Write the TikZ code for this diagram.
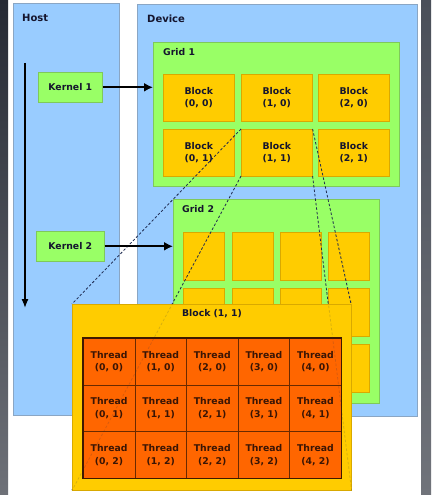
\documentclass[tikz,border=0pt]{standalone}
\usepackage{fontspec}
\setmainfont{DejaVu Sans}
\usetikzlibrary{arrows.meta}
\definecolor{panel}{HTML}{99CCFF}
\definecolor{panelborder}{HTML}{8AA6C4}
\definecolor{gridgreen}{HTML}{99FF66}
\definecolor{gridborder}{HTML}{7FC95A}
\definecolor{blockyellow}{HTML}{FFCC00}
\definecolor{blockborder}{HTML}{D9A900}
\definecolor{threadorange}{HTML}{FF6600}
\definecolor{threadborder}{HTML}{6A2A00}
\definecolor{txt}{HTML}{15152E}
\definecolor{threadtxt}{HTML}{3A1505}
\definecolor{linkcol}{HTML}{1E2A50}
\tikzset{
  panelbox/.style={draw=panelborder, fill=panel, line width=0.6pt, anchor=north west, inner sep=0pt},
  gridbox/.style={draw=gridborder, fill=gridgreen, line width=0.6pt, anchor=north west, inner sep=0pt},
  kernelbox/.style={draw=gridborder, fill=gridgreen, line width=0.6pt, anchor=north west, inner sep=0pt, minimum width=64pt, minimum height=30pt, text=txt},
  blockbox/.style={draw=blockborder, fill=blockyellow, line width=0.6pt, anchor=north west, inner sep=0pt, align=center, text=txt},
  threadbox/.style={draw=threadborder, fill=threadorange, line width=0.6pt, anchor=north west, inner sep=0pt, align=center, text=threadtxt, minimum width=51.6pt, minimum height=46.67pt},
  lbl/.style={anchor=west, inner sep=0pt, text=txt},
  link/.style={draw=linkcol, dash pattern=on 2.5pt off 2pt, line width=0.75pt},
  launch/.style={draw=black, line width=1.9pt, -{Latex[length=9pt,width=9pt]}}
}
\begin{document}
\begin{tikzpicture}[x=1pt, y=-1pt, font=\bfseries\fontsize{9.3}{12.5}\selectfont]
\useasboundingbox (0,0) rectangle (431,495);
% background
\fill[white] (0,0) rectangle (431,495);
\shade[top color={rgb,255:red,38;green,42;blue,52}, bottom color={rgb,255:red,110;green,113;blue,120}] (0,0) rectangle (8,495);
\shade[top color={rgb,255:red,74;green,79;blue,89}, bottom color={rgb,255:red,112;green,115;blue,122}] (421,0) rectangle (431,495);
% host and device
\node[panelbox, minimum width=106pt, minimum height=412pt] (host) at (12.5,3) {};
\node[panelbox, minimum width=280pt, minimum height=412pt] (device) at (136.5,4) {};
\node[lbl, font=\bfseries\fontsize{10}{12}\selectfont] (hostlbl) at (22,17.5) {Host};
\node[lbl, font=\bfseries\fontsize{10}{12}\selectfont] (devlbl) at (147,19) {Device};
% grid 1
\node[gridbox, minimum width=246pt, minimum height=144pt] (grid1) at (153,42) {};
\node[lbl] (g1lbl) at (163,52) {Grid 1};
\foreach \c/\x in {0/163,1/241,2/318}{
  \foreach \r/\y in {0/74,1/129}{
    \node[blockbox, minimum width=71pt, minimum height=46.5pt] (b\c\r) at (\x,\y) {Block\\(\c, \r)};
  }
}
% grid 2
\node[gridbox, minimum width=206pt, minimum height=204pt] (grid2) at (173,199) {};
\node[lbl] (g2lbl) at (182,209.5) {Grid 2};
\foreach \c/\x in {0/183,1/232,2/280,3/328}{
  \foreach \r/\y in {0/232,1/288,2/344}{
    \node[blockbox, minimum width=41pt, minimum height=48pt] (c\c\r) at (\x,\y) {};
  }
}
% kernels
\node[kernelbox] (k1) at (38,72) {Kernel 1};
\node[kernelbox, minimum width=68pt] (k2) at (36,231) {Kernel 2};
% time line
\coordinate (tstart) at (25,63);
\coordinate (tend) at (25,308);
\draw[draw=black, line width=1.3pt, -{Latex[length=9pt,width=7pt]}] (tstart) -- (tend);
% corners of the detail box of block (1,1)
\coordinate (bignw) at (72,304);
\coordinate (bigsw) at (72,490);
\coordinate (bigne) at (351,304);
\coordinate (bigse) at (351,490);
% links from block (1,1) to its detail
\draw[link] (b11.north west) -- (bignw);
\draw[link] (b11.south west) -- (bigsw);
\draw[link] (b11.north east) -- (bigne);
\draw[link] (b11.south east) -- (bigse);
% kernel launches
\draw[launch] (k1.east) -- (grid1.west |- k1.east);
\draw[launch] (k2.east) -- (grid2.west |- k2.east);
% block (1,1) detail
\node[blockbox, draw=blockborder, minimum width=279pt, minimum height=186pt] (big) at (bignw) {};
\node[inner sep=0pt, text=txt] (biglbl) at (212,314) {Block (1, 1)};
\foreach \c in {0,...,4}{
  \foreach \r in {0,1,2}{
    \node[threadbox] (t\c\r) at ({83+51.6*\c},{338+46.67*\r}) {Thread\\(\c, \r)};
  }
}
\draw[draw=threadborder!60!black, line width=1.3pt] (t00.north west) rectangle (t42.south east);
% faint continuation of the links through the detail box
\begin{scope}[opacity=0.18]
\draw[link] (b11.north west) -- (big.north west);
\draw[link] (b11.south west) -- (big.south west);
\draw[link] (b11.north east) -- (big.north east);
\draw[link] (b11.south east) -- (big.south east);
\end{scope}
\end{tikzpicture}
\end{document}
